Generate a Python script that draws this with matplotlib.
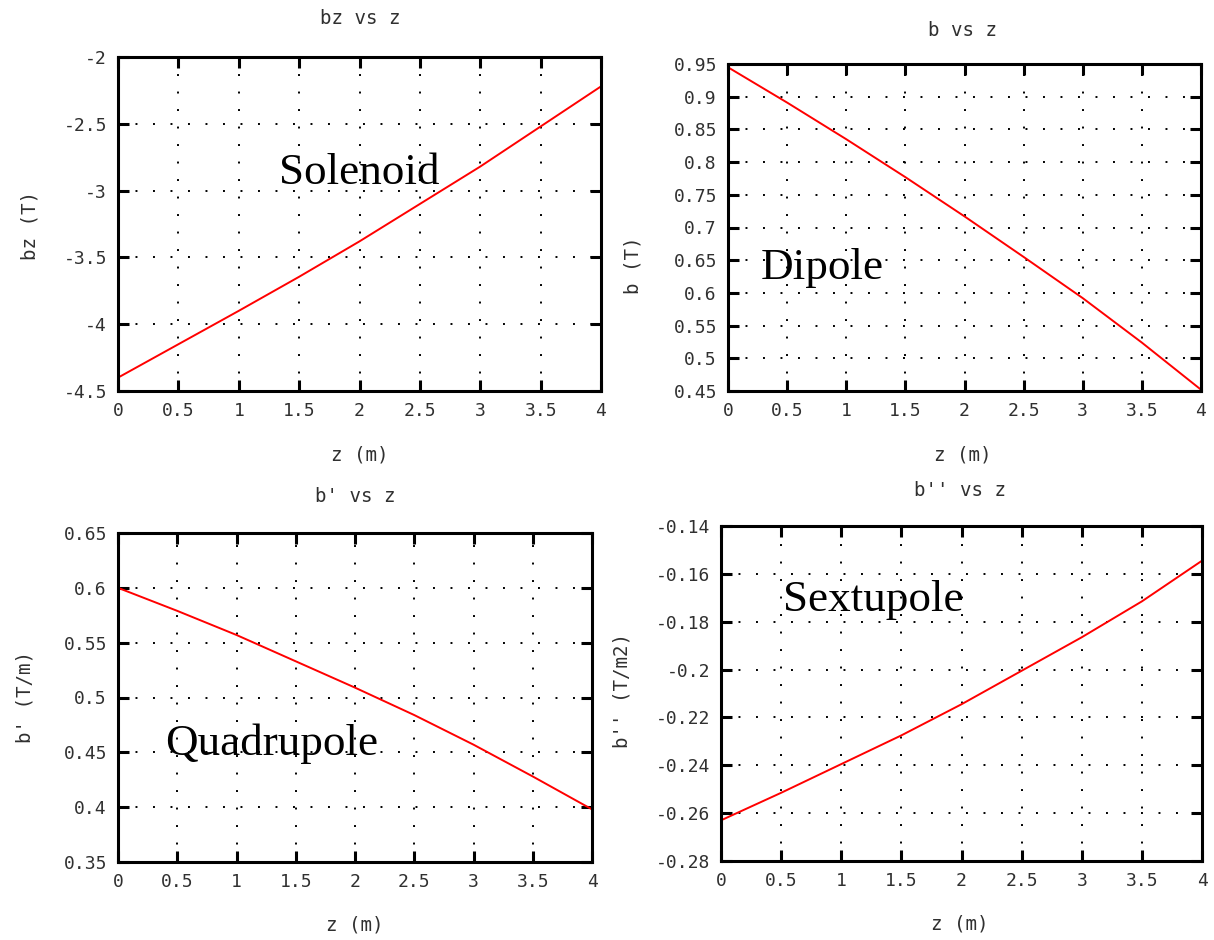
import matplotlib
matplotlib.use("Agg")
import matplotlib.pyplot as plt
from matplotlib.ticker import FuncFormatter

plt.rcParams['axes.unicode_minus'] = False
plt.rcParams['font.family'] = ['DejaVu Sans Mono']

z = [0, 0.5, 1.0, 1.5, 2.0, 2.5, 3.0, 3.5, 4.0]
bz = [-4.40, -4.15, -3.90, -3.645, -3.38, -3.10, -2.82, -2.52, -2.22]
b = [0.945, 0.891, 0.835, 0.777, 0.717, 0.655, 0.592, 0.524, 0.452]
bp = [0.600, 0.579, 0.557, 0.533, 0.509, 0.484, 0.457, 0.428, 0.398]
bpp = [-0.263, -0.2515, -0.2395, -0.2275, -0.2145, -0.2005, -0.1865, -0.1715, -0.1545]

titles = ["bz vs z", "b vs z", "b' vs z", "b'' vs z"]
ylabels = ["bz (T)", "b (T)", "b' (T/m)", "b'' (T/m2)"]
xlabel = "z (m)"
names = ["Solenoid", "Dipole", "Quadrupole", "Sextupole"]
xticks = [0, 0.5, 1, 1.5, 2, 2.5, 3, 3.5, 4]
yticks_list = [
    [-4.5, -4, -3.5, -3, -2.5, -2],
    [0.45, 0.5, 0.55, 0.6, 0.65, 0.7, 0.75, 0.8, 0.85, 0.9, 0.95],
    [0.35, 0.4, 0.45, 0.5, 0.55, 0.6, 0.65],
    [-0.28, -0.26, -0.24, -0.22, -0.2, -0.18, -0.16, -0.14],
]
series = [bz, b, bp, bpp]

W, H = 1214, 940
fig = plt.figure(figsize=(W / 100, H / 100), dpi=100)

# axes boxes in pixels: left, top, right, bottom
boxes = [(118, 57, 601, 391), (728, 64, 1201, 391), (118, 533, 592, 862), (721, 526, 1202, 861)]
title_pos = [(360, 18), (962, 30), (355, 497), (960, 491)]
xlab_pos = [(360, 455), (963, 455), (355, 925), (960, 924)]
ylab_pos = [(30, 225), (633, 265), (25, 697), (622, 690)]
name_pos = [(2.0, -2.87), (0.80, 0.638), (1.30, 0.458), (1.27, -0.171)]

fmt = FuncFormatter(lambda v, p: ('%g' % round(v, 4)))
txtcol = '#303030'
fs = 13
fs2 = 13.8

for i in range(4):
    l, t, r, bt = boxes[i]
    ax = fig.add_axes([l / W, 1 - bt / H, (r - l) / W, (bt - t) / H])
    ax.plot(z, series[i], color='#ff0000', lw=1.4)
    ax.set_xlim(0, 4)
    yt = yticks_list[i]
    ax.set_ylim(yt[0], yt[-1])
    ax.set_xticks(xticks)
    ax.set_yticks(yt)
    ax.xaxis.set_major_formatter(fmt)
    ax.yaxis.set_major_formatter(fmt)
    ax.tick_params(direction='in', length=8, width=2.2, top=True, right=True,
                   labelsize=fs, labelcolor=txtcol, pad=8)
    for s in ax.spines.values():
        s.set_linewidth(2.2)
    ax.grid(True, color='black', linestyle=(0, (1, 8)), linewidth=1.4)
    ax.text(name_pos[i][0], name_pos[i][1], names[i], family='Liberation Serif',
            fontsize=32.5, ha='center', va='center', color='black')
    fig.text(title_pos[i][0] / W, 1 - title_pos[i][1] / H, titles[i], ha='center', va='center',
             fontsize=fs2, color=txtcol)
    fig.text(xlab_pos[i][0] / W, 1 - xlab_pos[i][1] / H, xlabel, ha='center', va='center',
             fontsize=fs2, color=txtcol)
    fig.text(ylab_pos[i][0] / W, 1 - ylab_pos[i][1] / H, ylabels[i], ha='center', va='center',
             fontsize=fs2, color=txtcol, rotation=90)

fig.savefig('out.png', dpi=100, facecolor='white')
